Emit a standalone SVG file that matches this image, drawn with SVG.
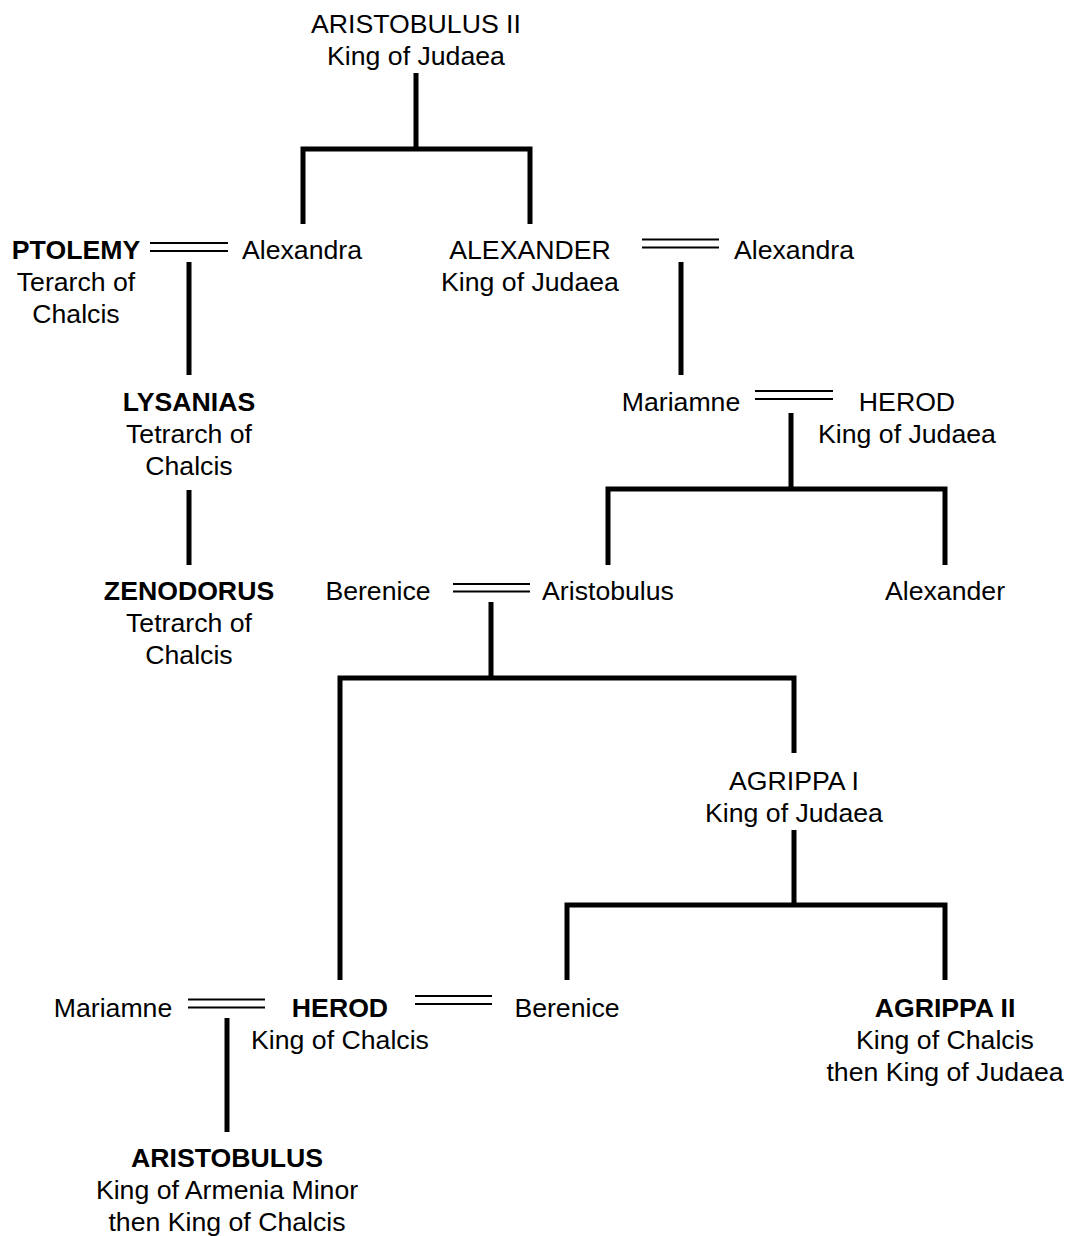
<svg xmlns="http://www.w3.org/2000/svg" width="1070" height="1236" viewBox="0 0 1070 1236">
  <style>
    text { font-family: "Liberation Sans", Arial, sans-serif; font-size: 26.67px; fill: #000; text-anchor: middle; }
    .b { font-weight: bold; }
    .line { stroke: #000; stroke-width: 5; fill: none; stroke-linejoin: miter; }
    .wed { stroke: #000; stroke-width: 2; fill: none; }
  </style>
  <rect width="1070" height="1236" fill="#fff"/>

  <!-- descent lines and marriage marks -->
  <g id="connectors">
    <path class="line" d="M416,73 V149 M303,224 V149 H530 V224"/>
    <path class="line" d="M189,262 V375 M189,490 V565"/>
    <path class="line" d="M681,262 V375"/>
    <path class="line" d="M791,413 V489 M608,565 V489 H945 V565"/>
    <path class="line" d="M491,602 V678 M340,980 V678 H794 V753"/>
    <path class="line" d="M794,830 V905 M567,980 V905 H945 V980"/>
    <path class="line" d="M227,1018 V1132"/>

    <path class="wed" d="M150,243 H228 M150,251 H228"/>
    <path class="wed" d="M642,239.5 H719 M642,247.5 H719"/>
    <path class="wed" d="M755,391 H833 M755,399 H833"/>
    <path class="wed" d="M453,584 H530 M453,591.5 H530"/>
    <path class="wed" d="M188,999.5 H265 M188,1007.5 H265"/>
    <path class="wed" d="M415,996 H492 M415,1004 H492"/>
  </g>

  <g id="aristobulus-ii"><text x="416" y="33">ARISTOBULUS II</text><text x="416" y="65">King of Judaea</text></g>
  <g id="ptolemy"><text class="b" x="76" y="259">PTOLEMY</text><text x="76" y="291">Terarch of</text><text x="76" y="323">Chalcis</text></g>
  <g id="alexandra-1"><text x="302" y="259">Alexandra</text></g>
  <g id="alexander-king"><text x="530" y="259">ALEXANDER</text><text x="530" y="291">King of Judaea</text></g>
  <g id="alexandra-2"><text x="794" y="259">Alexandra</text></g>
  <g id="lysanias"><text class="b" x="189" y="411">LYSANIAS</text><text x="189" y="443">Tetrarch of</text><text x="189" y="475">Chalcis</text></g>
  <g id="mariamne-1"><text x="681" y="411">Mariamne</text></g>
  <g id="herod-great"><text x="907" y="411">HEROD</text><text x="907" y="443">King of Judaea</text></g>
  <g id="zenodorus"><text class="b" x="189" y="600">ZENODORUS</text><text x="189" y="632">Tetrarch of</text><text x="189" y="664">Chalcis</text></g>
  <g id="berenice-1"><text x="378" y="600">Berenice</text></g>
  <g id="aristobulus-son"><text x="608" y="600">Aristobulus</text></g>
  <g id="alexander-son"><text x="945" y="600">Alexander</text></g>
  <g id="agrippa-i"><text x="794" y="790">AGRIPPA I</text><text x="794" y="822">King of Judaea</text></g>
  <g id="mariamne-2"><text x="113" y="1017">Mariamne</text></g>
  <g id="herod-chalcis"><text class="b" x="340" y="1017">HEROD</text><text x="340" y="1049">King of Chalcis</text></g>
  <g id="berenice-2"><text x="567" y="1017">Berenice</text></g>
  <g id="agrippa-ii"><text class="b" x="945" y="1017">AGRIPPA II</text><text x="945" y="1049">King of Chalcis</text><text x="945" y="1081">then King of Judaea</text></g>
  <g id="aristobulus-armenia"><text class="b" x="227" y="1167">ARISTOBULUS</text><text x="227" y="1199">King of Armenia Minor</text><text x="227" y="1231">then King of Chalcis</text></g>
</svg>
